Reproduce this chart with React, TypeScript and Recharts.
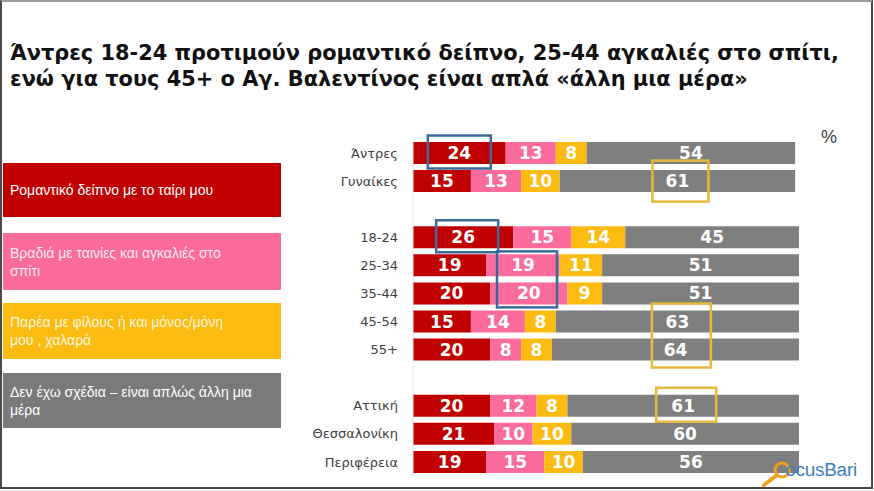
import React from 'react';
import { BarChart, Bar, XAxis, YAxis, LabelList } from 'recharts';

// ---------- data ----------
const groupGender = ['Άντρες', 'Γυναίκες'];
const groupAge = ['18-24', '25-34', '35-44', '45-54', '55+'];
const groupRegion = ['Αττική', 'Θεσσαλονίκη', 'Περιφέρεια'];
const groups = [groupGender, groupAge, groupRegion];

const romantic = [24, 15, 26, 19, 20, 15, 20, 20, 21, 19];
const cuddles = [13, 13, 15, 19, 20, 14, 8, 12, 10, 15];
const friends = [8, 10, 14, 11, 9, 8, 8, 8, 10, 10];
const noPlans = [54, 61, 45, 51, 51, 63, 64, 61, 60, 56];

const seriesNames = [
  'Ρομαντικό δείπνο με το ταίρι μου',
  'Βραδιά με ταινίες και αγκαλιές στο σπίτι',
  'Παρέα με φίλους ή και μόνος/μόνη μου , χαλαρά',
  'Δεν έχω σχέδια – είναι απλώς άλλη μια μέρα',
];
const legendLines = [
  ['Ρομαντικό δείπνο με το ταίρι μου'],
  ['Βραδιά με ταινίες και αγκαλιές στο', 'σπίτι'],
  ['Παρέα με φίλους ή και μόνος/μόνη', 'μου , χαλαρά'],
  ['Δεν έχω σχέδια – είναι απλώς άλλη μια', 'μέρα'],
];

const titleLines = [
  'Άντρες 18-24 προτιμούν ρομαντικό δείπνο, 25-44 αγκαλιές στο σπίτι,',
  'ενώ για τους 45+ ο Αγ. Βαλεντίνος είναι απλά «άλλη μια μέρα»',
];

// highlighted cells: category, series key, number of rows spanned, colour
const highlights = [
  { cat: 'Άντρες', key: 'romantic', rows: 1, color: '#3d6a99', w: 63, h: 33, dx: 0, dy: -1 },
  { cat: '18-24', key: 'romantic', rows: 1, color: '#3d6a99', w: 62, h: 32, dx: 4, dy: -1 },
  { cat: '25-34', key: 'cuddles', rows: 2, color: '#3d6a99', w: 60, h: 56, dx: 4, dy: 0 },
  { cat: 'Γυναίκες', key: 'noPlans', rows: 1, color: '#e6b93a', w: 56, h: 41, dx: 3, dy: 0 },
  { cat: '45-54', key: 'noPlans', rows: 2, color: '#e6b93a', w: 59, h: 64, dx: 4, dy: 0 },
  { cat: 'Αττική', key: 'noPlans', rows: 1, color: '#e6b93a', w: 60, h: 34, dx: 3, dy: -1 },
];

const COLORS = {
  romantic: '#c00000',
  cuddles: '#fb6b9d',
  friends: '#fbbb10',
  noPlans: '#7f7f7f',
};
const legendColors = ['#c00000', '#fb6b9d', '#fbbb10', '#7a7a7a'];

// build table with spacer rows between groups
const rows: any[] = [];
const realRows: any[] = [];
let idx = 0;
groups.forEach((g, gi) => {
  g.forEach((cat) => {
    const r = {
      cat,
      romantic: romantic[idx],
      cuddles: cuddles[idx],
      friends: friends[idx],
      noPlans: noPlans[idx],
    };
    rows.push(r);
    realRows.push(r);
    idx++;
  });
  if (gi < groups.length - 1) rows.push({ cat: 'gap' + gi });
});

const ROW_PITCH = 337 / rows.length;

const makeLabel = (key: string) => (props: any) => {
  const { x, y, width, height, value, index } = props;
  if (value == null) return null;
  const cx = Number(x) + Number(width) / 2;
  const cy = Number(y) + Number(height) / 2;
  const row = realRows[index];
  const hl = row ? highlights.find((h) => h.key === key && h.cat === row.cat) : undefined;
  let box = null;
  if (hl) {
    const centerY = cy + ((hl.rows - 1) * ROW_PITCH) / 2 + hl.dy;
    box = (
      <rect
        x={cx + hl.dx - hl.w / 2}
        y={centerY - hl.h / 2}
        width={hl.w}
        height={hl.h}
        fill="none"
        stroke={hl.color}
        strokeWidth={2.5}
      />
    );
  }
  return (
    <g>
      <text
        x={cx}
        y={cy + 6}
        textAnchor="middle"
        fill="#ffffff"
        fontFamily="'DejaVu Sans', sans-serif"
        fontWeight="bold"
        fontSize={17}
      >
        {value}
      </text>
      {box}
    </g>
  );
};

const keys = ['romantic', 'cuddles', 'friends', 'noPlans'] as const;

export default function App() {
  return (
    <div
      style={{
        position: 'absolute',
        left: 0,
        top: 0,
        width: 874,
        height: 491,
        background: '#ffffff',
        overflow: 'hidden',
        fontFamily: "'Liberation Sans', Arial, sans-serif",
      }}
    >
      {/* title */}
      <div
        style={{
          position: 'absolute',
          left: 10,
          top: 40,
          fontFamily: "'DejaVu Sans', sans-serif",
          fontWeight: 'bold',
          fontSize: 20.9,
          lineHeight: '26px',
          color: '#111',
          whiteSpace: 'nowrap',
        }}
      >
        {titleLines.map((l, i) => (
          <div key={i}>{l}</div>
        ))}
      </div>

      {/* legend boxes */}
      {legendLines.map((lines, i) => {
        const tops = [163, 233, 303, 373];
        const heights = [54, 57, 56, 55];
        return (
          <div
            key={i}
            title={seriesNames[i]}
            style={{
              position: 'absolute',
              left: 3,
              top: tops[i],
              width: 278,
              height: heights[i],
              background: legendColors[i],
              color: i === 0 || i === 3 ? '#ffffff' : 'rgba(255,255,255,0.88)',
              fontSize: 14,
              lineHeight: '18px',
              display: 'flex',
              flexDirection: 'column',
              justifyContent: 'center',
              paddingLeft: 7,
              boxSizing: 'border-box',
            }}
          >
            {lines.map((l, j) => (
              <div key={j} style={{ whiteSpace: 'nowrap' }}>
                {l}
              </div>
            ))}
          </div>
        );
      })}

      {/* chart */}
      <div style={{ position: 'absolute', left: 0, top: 0 }}>
        <BarChart
          width={874}
          height={491}
          data={rows}
          layout="vertical"
          margin={{ top: 139, right: 75, bottom: 15, left: 0 }}
          barSize={22}
        >
          <XAxis type="number" domain={[0, 100]} allowDataOverflow hide />
          <YAxis
            type="category"
            dataKey="cat"
            width={413}
            interval={0}
            tickLine={false}
            tickSize={0}
            tickMargin={15}
            axisLine={{ stroke: '#e4e4e4' }}
            tickFormatter={(v: string) => (v.startsWith('gap') ? '' : v)}
            tick={{ fill: '#404040', fontSize: 13, fontFamily: "'DejaVu Sans', sans-serif" }}
          />
          {keys.map((k, i) => (
            <Bar
              key={k}
              dataKey={k}
              name={seriesNames[i]}
              stackId="a"
              fill={COLORS[k]}
              isAnimationActive={false}
            >
              <LabelList dataKey={k} content={makeLabel(k)} />
            </Bar>
          ))}
        </BarChart>
      </div>

      {/* percent sign */}
      <div
        style={{
          position: 'absolute',
          left: 821,
          top: 127,
          fontSize: 18,
          color: '#404040',
        }}
      >
        %
      </div>

      {/* logo */}
      <svg
        width={40}
        height={30}
        style={{ position: 'absolute', left: 758, top: 458 }}
      >
        <circle cx={24} cy={12} r={7} fill="none" stroke="#f0a020" strokeWidth={3} />
        <line x1={19} y1={17} x2={6} y2={27} stroke="#f0a020" strokeWidth={4} strokeLinecap="round" />
      </svg>
      <div
        style={{
          position: 'absolute',
          left: 774,
          top: 459,
          fontSize: 19,
          color: '#3a80c0',
          letterSpacing: -0.3,
        }}
      >
        <span style={{ opacity: 0 }}>F</span>ocusBari
      </div>

      {/* frame */}
      <div
        style={{
          position: 'absolute',
          left: 0,
          top: 0,
          width: 873,
          height: 489,
          boxSizing: 'border-box',
          borderLeft: '2px solid #4a4a4a',
          borderRight: '2px solid #4a4a4a',
          borderBottom: '2px solid #4a4a4a',
          borderTop: '2px solid #9a9a9a',
          pointerEvents: 'none',
        }}
      />
    </div>
  );
}
